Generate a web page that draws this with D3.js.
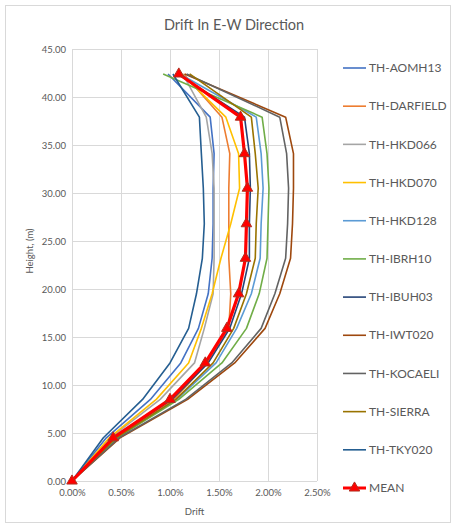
<!DOCTYPE html>
<html>
<head>
<meta charset="utf-8">
<script src="https://cdn.jsdelivr.net/npm/d3@7"></script>
<style>
  html, body { margin: 0; padding: 0; background: #fff; }
  svg { display: block; font-family: Lato, "Open Sans", sans-serif; }
</style>
</head>
<body>
<svg id="chart" width="457" height="528"></svg>
<script>
// Storey heights (m) at which inter-storey drift was recorded
const heights = [0, 4.5, 8.5, 12.3, 15.9, 19.5, 23.2, 26.8, 30.5, 34.1, 37.9, 42.4];

// Drift (%) per ground motion record, bottom to top
const aomh13   = [0, 0.35, 0.80, 1.11, 1.29, 1.39, 1.43, 1.44, 1.44, 1.45, 1.41, 0.98];
const darfield = [0, 0.44, 1.04, 1.38, 1.60, 1.62, 1.60, 1.60, 1.60, 1.61, 1.53, 1.14];
const hkd066   = [0, 0.39, 0.90, 1.25, 1.35, 1.44, 1.45, 1.45, 1.45, 1.43, 1.37, 1.13];
const hkd070   = [0, 0.38, 0.86, 1.19, 1.32, 1.43, 1.52, 1.62, 1.71, 1.70, 1.57, 1.12];
const hkd128   = [0, 0.45, 1.07, 1.47, 1.68, 1.83, 1.92, 1.93, 1.95, 1.93, 1.88, 1.10];
const ibrh10   = [0, 0.46, 1.09, 1.53, 1.78, 1.91, 1.99, 2.00, 2.01, 1.99, 1.94, 0.93];
const ibuh03   = [0, 0.43, 1.02, 1.39, 1.61, 1.73, 1.81, 1.81, 1.82, 1.81, 1.76, 1.08];
const iwt020   = [0, 0.49, 1.18, 1.66, 1.97, 2.12, 2.23, 2.25, 2.26, 2.26, 2.18, 1.15];
const kocaeli  = [0, 0.48, 1.16, 1.63, 1.93, 2.07, 2.18, 2.20, 2.21, 2.19, 2.12, 1.17];
const sierra   = [0, 0.45, 1.06, 1.44, 1.65, 1.78, 1.87, 1.88, 1.90, 1.87, 1.83, 1.20];
const tky020   = [0, 0.32, 0.72, 1.00, 1.19, 1.27, 1.33, 1.35, 1.34, 1.32, 1.30, 1.03];
const meanDrift = [0, 0.42, 1.00, 1.36, 1.58, 1.70, 1.77, 1.78, 1.79, 1.76, 1.72, 1.09];

const seriesNames = ["TH-AOMH13", "TH-DARFIELD", "TH-HKD066", "TH-HKD070", "TH-HKD128",
                     "TH-IBRH10", "TH-IBUH03", "TH-IWT020", "TH-KOCAELI", "TH-SIERRA",
                     "TH-TKY020", "MEAN"];
const seriesValues = [aomh13, darfield, hkd066, hkd070, hkd128, ibrh10, ibuh03,
                      iwt020, kocaeli, sierra, tky020, meanDrift];
const seriesColors = ["#4472C4", "#ED7D31", "#A5A5A5", "#FFC000", "#5B9BD5", "#70AD47",
                      "#264478", "#9E480E", "#636363", "#997300", "#255E91", "#FF0000"];

const xTicks = [0, 0.5, 1.0, 1.5, 2.0, 2.5];
const yTicks = [0, 5, 10, 15, 20, 25, 30, 35, 40, 45];

const svg = d3.select("#chart");
const textColor = "#595959";
const gridColor = "#D9D9D9";

// outer chart frame
svg.append("rect")
  .attr("x", 5.5).attr("y", 5.5).attr("width", 445).attr("height", 517)
  .attr("fill", "#fff").attr("stroke", gridColor).attr("stroke-width", 1);

const plot = { left: 72, right: 317, top: 49, bottom: 481 };

const x = d3.scaleLinear().domain([0, 2.5]).range([plot.left, plot.right]);
const y = d3.scaleLinear().domain([0, 45]).range([plot.bottom, plot.top]);

// title
svg.append("text")
  .attr("x", 234).attr("y", 30)
  .attr("text-anchor", "middle")
  .attr("font-size", 14.5)
  .attr("fill", textColor)
  .text("Drift In E-W Direction");

// gridlines
const grid = svg.append("g").attr("stroke", gridColor).attr("stroke-width", 1);
grid.selectAll("line.h").data(yTicks).join("line")
  .attr("class", "h")
  .attr("x1", plot.left).attr("x2", plot.right)
  .attr("y1", d => Math.round(y(d)) + 0.5).attr("y2", d => Math.round(y(d)) + 0.5);
grid.selectAll("line.v").data(xTicks).join("line")
  .attr("class", "v")
  .attr("y1", plot.top).attr("y2", plot.bottom)
  .attr("x1", d => Math.round(x(d)) + 0.5).attr("x2", d => Math.round(x(d)) + 0.5);

// axes (labels only, lines come from the grid)
const yAxis = d3.axisLeft(y).tickValues(yTicks).tickFormat(d3.format(".2f")).tickSize(0).tickPadding(6);
const gy = svg.append("g").attr("transform", `translate(${plot.left},0)`).call(yAxis);
gy.select(".domain").remove();
gy.selectAll("text").attr("fill", textColor).attr("font-size", 9.5).attr("font-family", "Lato, sans-serif");

const xAxis = d3.axisBottom(x).tickValues(xTicks).tickFormat(d => d3.format(".2f")(d) + "%").tickSize(0).tickPadding(8);
const gx = svg.append("g").attr("transform", `translate(0,${plot.bottom})`).call(xAxis);
gx.select(".domain").remove();
gx.selectAll("text").attr("fill", textColor).attr("font-size", 9.5).attr("font-family", "Lato, sans-serif");

// axis titles
svg.append("text")
  .attr("x", (plot.left + plot.right) / 2).attr("y", 515)
  .attr("text-anchor", "middle").attr("font-size", 9.5).attr("fill", textColor)
  .text("Drift");
svg.append("text")
  .attr("transform", "translate(33,251) rotate(-90)")
  .attr("text-anchor", "middle").attr("font-size", 9.5).attr("fill", textColor)
  .text("Height, (m)");

// profile lines
const line = d3.line()
  .x(d => x(d[0]))
  .y(d => y(d[1]));

const series = seriesNames.map((name, i) => ({
  name,
  color: seriesColors[i],
  isMean: name === "MEAN",
  points: seriesValues[i].map((v, j) => [v, heights[j]])
}));

const lines = svg.append("g").attr("fill", "none");
series.forEach(s => {
  lines.append("path")
    .datum(s.points)
    .attr("d", line)
    .attr("stroke", s.color)
    .attr("stroke-width", s.isMean ? 3.2 : 1.6)
    .attr("stroke-linejoin", "round");
});

// triangle markers on the mean profile
const tri = d3.symbol().type(d3.symbolTriangle).size(48);
const meanSeries = series.find(s => s.isMean);
svg.append("g").selectAll("path").data(meanSeries.points).join("path")
  .attr("d", tri)
  .attr("transform", d => `translate(${x(d[0])},${y(d[1])})`)
  .attr("fill", "#FF0000")
  .attr("stroke", "#B03020")
  .attr("stroke-width", 1);

// legend
const legY = d3.scaleLinear().domain([0, series.length - 1]).range([68, 488]);
const leg = svg.append("g");
series.forEach((s, i) => {
  const yy = legY(i);
  leg.append("line")
    .attr("x1", 343).attr("x2", 366)
    .attr("y1", yy).attr("y2", yy)
    .attr("stroke", s.color)
    .attr("stroke-width", s.isMean ? 3 : 1.6);
  if (s.isMean) {
    leg.append("path")
      .attr("d", tri)
      .attr("transform", `translate(354.5,${yy})`)
      .attr("fill", "#FF0000").attr("stroke", "#B03020").attr("stroke-width", 1);
  }
  leg.append("text")
    .attr("x", 369).attr("y", yy)
    .attr("dy", "0.35em")
    .attr("font-size", 12)
    .attr("fill", textColor)
    .text(s.name);
});
</script>
</body>
</html>
